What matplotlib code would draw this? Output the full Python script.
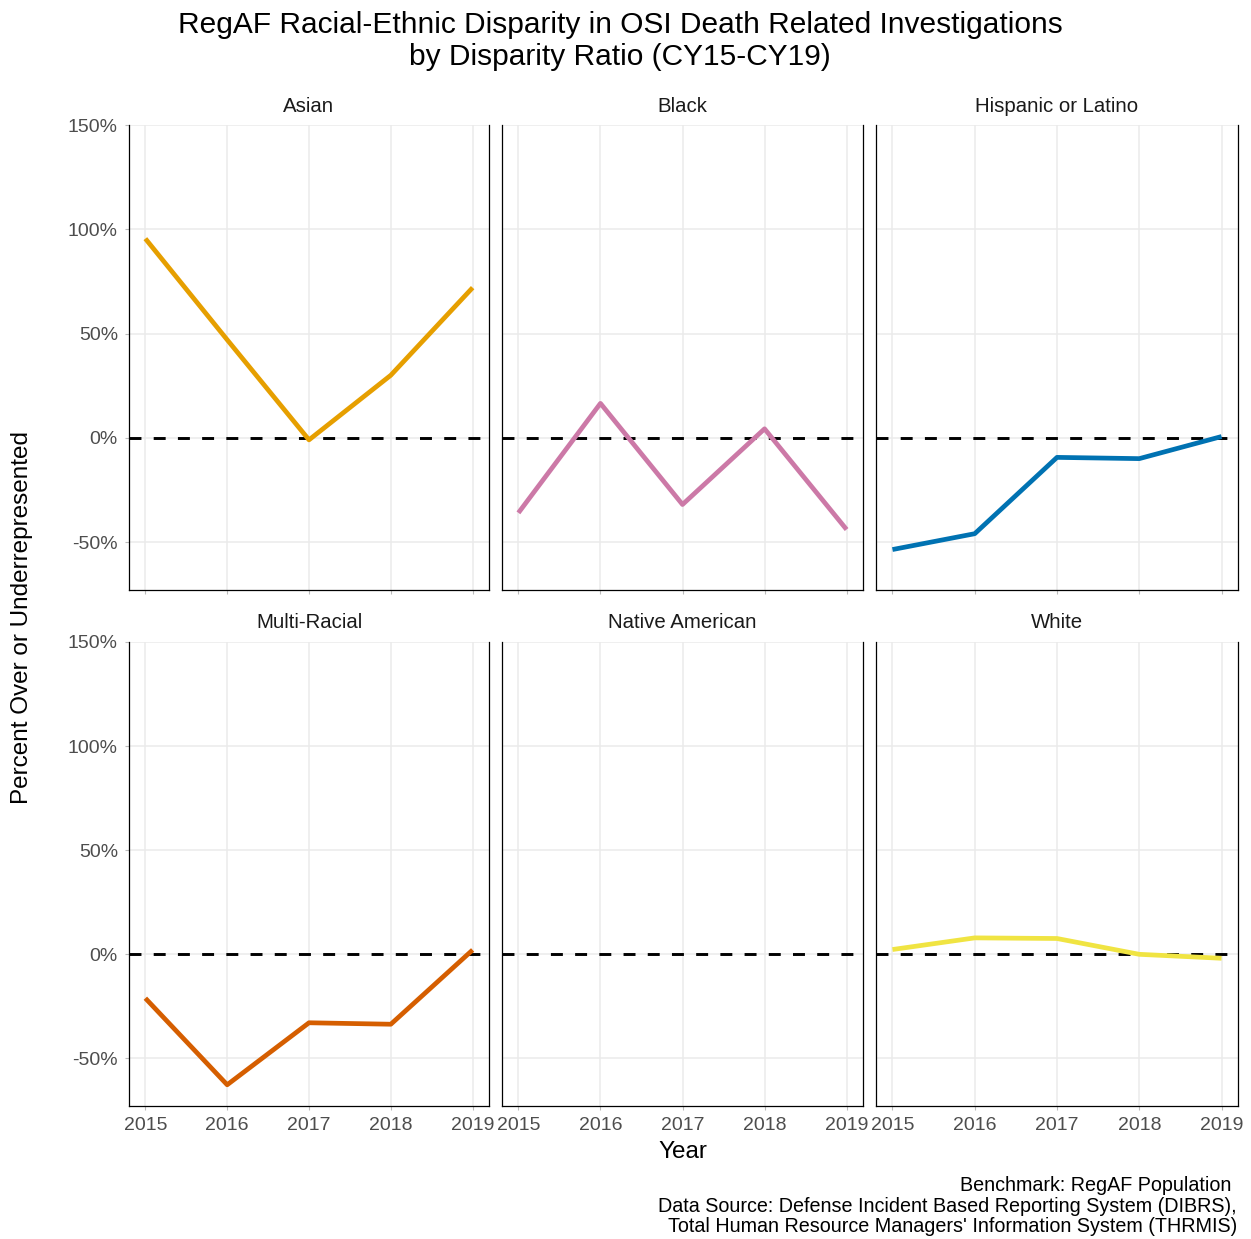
import matplotlib
matplotlib.use('Agg')
import matplotlib.pyplot as plt

plt.rcParams['font.family'] = ['Liberation Sans', 'DejaVu Sans']

# Daten
years = [2015, 2016, 2017, 2018, 2019]
groups = ['Asian', 'Black', 'Hispanic or Latino', 'Multi-Racial', 'Native American', 'White']
asian = [95.5, 47, -1, 30, 72]
black = [-36, 16.5, -32, 4.3, -44]
hispanic = [-53.6, -46, -9.4, -10, 0.6]
multi_racial = [-21.2, -62.8, -33, -33.7, 2]
native_american = []
white = [2.2, 7.8, 7.5, -0.1, -2]
values = [asian, black, hispanic, multi_racial, native_american, white]
colors = ['#E69F00', '#CC79A7', '#0072B2', '#D55E00', '#009E73', '#F0E442']
y_ticks = [-50, 0, 50, 100, 150]

W, H = 1251, 1239
fig = plt.figure(figsize=(W / 100, H / 100), dpi=100)

cols = [(129, 489), (502, 863), (876, 1238)]
rows = [(125, 590), (642, 1106)]

for i, name in enumerate(groups):
    r, c = divmod(i, 3)
    x0, x1 = cols[c]
    y0, y1 = rows[r]
    ax = fig.add_axes([x0 / W, 1 - y1 / H, (x1 - x0) / W, (y1 - y0) / H])
    ax.set_xlim(2014.8, 2019.2)
    ax.set_ylim(-73, 150)
    ax.set_xticks(years)
    ax.set_yticks(y_ticks)
    ax.grid(True, color='#EBEBEB', lw=1.1)
    ax.set_axisbelow(True)
    for s in ['left', 'right', 'bottom']:
        ax.spines[s].set_color('black')
        ax.spines[s].set_linewidth(0.9)
    ax.spines['top'].set_visible(False)
    ax.tick_params(length=3, color='#BBBBBB', labelcolor='#4D4D4D', labelsize=14, pad=5)

    ax.axhline(0, color='black', lw=2.1, dashes=(4.1, 4.2), zorder=2)
    if values[i]:
        ax.plot(years, values[i], color=colors[i], lw=3.4, solid_capstyle='butt', zorder=3)

    if c == 0:
        ax.set_yticklabels([f"{v}%" for v in y_ticks])
    else:
        ax.tick_params(axis='y', labelleft=False, length=0)
    if r == 1:
        ax.set_xticklabels([str(y) for y in years])
    else:
        ax.tick_params(axis='x', labelbottom=False)

    fig.text((x0 + x1) / 2 / W, 1 - (y0 - 19) / H, name, ha='center', va='center',
             fontsize=14.7, color='#1A1A1A')

# Titel und Beschriftungen
fig.text(620 / W, 1 - 41 / H, "RegAF Racial-Ethnic Disparity in OSI Death Related Investigations\nby Disparity Ratio (CY15-CY19)",
         ha='center', va='center', fontsize=21.5, linespacing=1.2)
fig.text(683 / W, 1 - 1152 / H, "Year", ha='center', va='center', fontsize=17.5)
fig.text(22 / W, 1 - 618 / H, "Percent Over or Underrepresented", ha='center', va='center',
         rotation=90, fontsize=17.5)
fig.text(1237 / W, 1 - 1206 / H,
         "Benchmark: RegAF Population \nData Source: Defense Incident Based Reporting System (DIBRS),\nTotal Human Resource Managers' Information System (THRMIS)",
         ha='right', va='center', fontsize=14.2, linespacing=1.12)

plt.savefig('out.png', dpi=100)
plt.close()
